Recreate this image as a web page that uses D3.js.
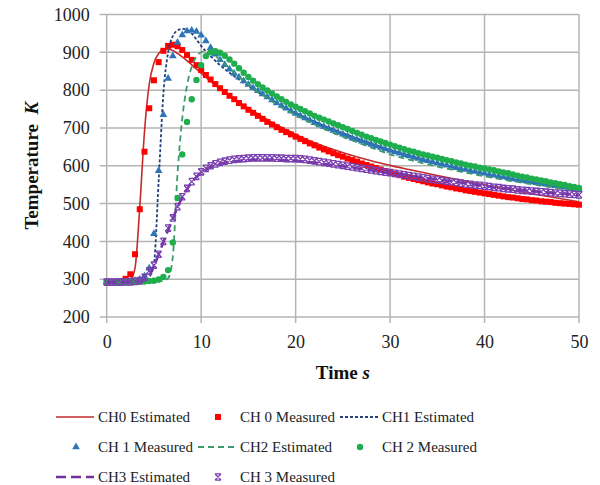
<!DOCTYPE html>
<html>
<head>
<meta charset="utf-8">
<script src="https://cdn.jsdelivr.net/npm/d3@7"></script>
<style>
    body { margin: 0; background: #fff; }
    svg { display: block; }
    svg text { font-family: "Liberation Serif", "Times New Roman", serif; }
</style>
</head>
<body>
<div id="chart-container"></div>
<script>
// Axis ticks
const xTicks = [0, 10, 20, 30, 40, 50];
const yTicks = [200, 300, 400, 500, 600, 700, 800, 900, 1000];

// Measured sample times (s)
const tMeasured = [
    0, 0.5, 1, 1.5, 2, 2.5, 3, 3.5, 4, 4.5,
    5, 5.5, 6, 6.5, 7, 7.5, 8, 8.5, 9, 9.5,
    10, 10.5, 11, 11.5, 12, 12.5, 13, 13.5, 14, 14.5,
    15, 15.5, 16, 16.5, 17, 17.5, 18, 18.5, 19, 19.5,
    20, 20.5, 21, 21.5, 22, 22.5, 23, 23.5, 24, 24.5,
    25, 25.5, 26, 26.5, 27, 27.5, 28, 28.5, 29, 29.5,
    30, 30.5, 31, 31.5, 32, 32.5, 33, 33.5, 34, 34.5,
    35, 35.5, 36, 36.5, 37, 37.5, 38, 38.5, 39, 39.5,
    40, 40.5, 41, 41.5, 42, 42.5, 43, 43.5, 44, 44.5,
    45, 45.5, 46, 46.5, 47, 47.5, 48, 48.5, 49, 49.5,
    50];

const ch0Measured = [
    292, 292, 293, 295, 301, 313, 366, 485, 637, 752,
    826, 874, 904, 917, 920, 916, 906, 893, 880, 866,
    853, 840, 828, 816, 805, 795, 785, 776, 766, 757,
    748, 740, 732, 724, 716, 709, 702, 695, 689, 683,
    677, 671, 665, 659, 654, 648, 643, 638, 633, 628,
    624, 619, 615, 611, 606, 602, 598, 594, 590, 586,
    582, 578, 575, 571, 568, 565, 562, 559, 556, 553,
    551, 548, 545, 543, 540, 538, 535, 533, 531, 529,
    527, 525, 523, 521, 519, 517, 516, 514, 512, 511,
    509, 508, 506, 505, 504, 502, 501, 500, 499, 498,
    497];

const ch1Measured = [
    292, 292, 292, 292, 293, 294, 296, 299, 308, 329,
    420, 587, 735, 831, 890, 926, 946, 956, 958, 955,
    945, 930, 912, 895, 880, 867, 855, 844, 834, 824,
    815, 806, 798, 790, 782, 774, 766, 759, 752, 745,
    738, 732, 726, 720, 714, 708, 703, 698, 693, 688,
    683, 678, 673, 669, 665, 660, 656, 652, 648, 644,
    640, 636, 633, 629, 626, 622, 619, 616, 613, 610,
    607, 604, 601, 598, 595, 592, 590, 587, 585, 582,
    580, 577, 575, 572, 570, 568, 565, 563, 561, 559,
    557, 555, 553, 551, 549, 547, 545, 543, 541, 539,
    537];

const ch2Measured = [
    292, 292, 292, 292, 292, 292, 293, 293, 294, 295,
    296, 299, 306, 324, 397, 515, 630, 716, 776, 827,
    866, 890, 900, 903, 899, 891, 881, 870, 858, 846,
    835, 825, 816, 807, 799, 791, 783, 776, 769, 762,
    756, 750, 744, 738, 732, 727, 722, 717, 712, 707,
    702, 697, 692, 687, 682, 677, 673, 668, 664, 660,
    656, 652, 648, 644, 640, 637, 633, 630, 627, 624,
    621, 618, 615, 612, 609, 606, 603, 600, 598, 595,
    593, 590, 588, 585, 582, 580, 577, 574, 571, 569,
    566, 564, 561, 559, 556, 554, 551, 549, 546, 544,
    541];

const ch3Measured = [
    292, 292, 292, 292, 293, 293, 294, 296, 305, 322,
    337, 366, 400, 435, 462, 492, 518, 540, 558, 572,
    584, 593, 600, 605, 609, 612, 615, 617, 618, 619,
    620, 621, 621, 621, 621, 621, 620, 620, 619, 619,
    619, 618, 617, 615, 613, 611, 609, 607, 605, 603,
    601, 599, 597, 595, 593, 591, 589, 587, 585, 583,
    582, 580, 578, 576, 574, 572, 570, 568, 566, 564,
    562, 561, 559, 557, 556, 554, 552, 551, 549, 548,
    546, 545, 543, 542, 540, 539, 538, 536, 535, 534,
    533, 532, 531, 530, 529, 528, 527, 526, 525, 524,
    523];

// Estimated curves
const ch0EstT = [0, 1, 2, 2.5, 3, 3.5, 4, 4.5, 5, 5.5, 6, 6.5, 7, 7.5, 8, 9, 10, 11, 12, 13,
    14, 15, 16, 17, 18, 19, 20, 22, 24, 26, 28, 30, 32, 35, 40, 45, 50];
const ch0Est = [292, 292, 294, 298, 330, 490, 690, 815, 872, 897, 907, 909, 905, 897, 888, 867, 845, 823, 803, 785,
    768, 752, 737, 722, 708, 695, 683, 661, 643, 627, 613, 601, 590, 574, 549, 526, 505];

const ch1EstT = [0, 3, 4, 4.5, 5, 5.5, 6, 6.5, 7, 7.5, 8, 8.5, 9, 9.5, 10, 11, 12, 13, 14, 15,
    16, 17, 18, 20, 22, 24, 26, 28, 30, 32, 35, 40, 45, 50];
const ch1Est = [292, 293, 296, 305, 340, 560, 790, 900, 943, 958, 962, 960, 950, 934, 917, 890, 866, 846, 828, 811,
    795, 780, 766, 740, 717, 696, 677, 659, 642, 627, 606, 578, 555, 535];

const ch2EstT = [0, 5, 6, 6.5, 7, 7.5, 8, 8.5, 9, 9.5, 10, 10.5, 11, 12, 13, 14, 15, 16, 17, 18,
    20, 22, 24, 26, 28, 30, 32, 35, 40, 45, 50];
const ch2Est = [292, 293, 296, 302, 360, 580, 725, 812, 862, 889, 900, 903, 899, 880, 858, 836, 815, 796, 779, 762,
    734, 709, 687, 667, 648, 630, 616, 598, 572, 551, 533];

const ch3EstT = [0, 3, 4, 4.5, 5, 5.5, 6, 6.5, 7, 7.5, 8, 9, 10, 11, 12, 14, 16, 18, 20, 22,
    24, 26, 28, 30, 32, 35, 40, 45, 50];
const ch3Est = [292, 293, 298, 310, 335, 365, 398, 430, 460, 490, 516, 556, 581, 596, 605, 613, 616, 616, 613, 608,
    602, 595, 588, 581, 574, 564, 547, 533, 523];

// Series definitions in Excel drawing order
const series = [
    { name: "CH0 Estimated", type: "line", t: ch0EstT, v: ch0Est, color: "#c42b2b", width: 1.6, dash: null },
    { name: "CH 0 Measured", type: "square", t: tMeasured, v: ch0Measured, color: "#ff0000" },
    { name: "CH1 Estimated", type: "line", t: ch1EstT, v: ch1Est, color: "#24407a", width: 1.8, dash: "3,2" },
    { name: "CH 1 Measured", type: "triangle", t: tMeasured, v: ch1Measured, color: "#2e75b6" },
    { name: "CH2 Estimated", type: "line", t: ch2EstT, v: ch2Est, color: "#3c9a6c", width: 1.8, dash: "6,4" },
    { name: "CH 2 Measured", type: "circle", t: tMeasured, v: ch2Measured, color: "#1fae4e" },
    { name: "CH3 Estimated", type: "line", t: ch3EstT, v: ch3Est, color: "#7030a0", width: 2.6, dash: "10,5" },
    { name: "CH 3 Measured", type: "star", t: tMeasured, v: ch3Measured, color: "#7a3fb0" },
];

const width = 600;
const height = 485;
const plot = { left: 106.7, right: 579, top: 14.5, bottom: 317 };

const svg = d3.select("#chart-container")
    .append("svg")
    .attr("width", width)
    .attr("height", height);

svg.append("rect").attr("width", width).attr("height", height).attr("fill", "#fff");

const xScale = d3.scaleLinear().domain([0, 50]).range([plot.left, plot.right]);
const yScale = d3.scaleLinear().domain([200, 1000]).range([plot.bottom, plot.top]);

// Gridlines (they poke out a little past the axes, like tick marks)
const gridColor = "#b4b4b4";
svg.append("g").selectAll("line")
    .data(yTicks)
    .join("line")
    .attr("x1", plot.left - 7).attr("x2", plot.right)
    .attr("y1", d => yScale(d)).attr("y2", d => yScale(d))
    .attr("stroke", gridColor).attr("stroke-width", 1.5);

svg.append("g").selectAll("line")
    .data(xTicks)
    .join("line")
    .attr("x1", d => xScale(d)).attr("x2", d => xScale(d))
    .attr("y1", plot.top).attr("y2", plot.bottom + 6)
    .attr("stroke", gridColor).attr("stroke-width", 1.5);

// Axes (labels only)
const xAxis = d3.axisBottom(xScale).tickValues(xTicks).tickFormat(d3.format("d")).tickSize(0).tickPadding(18.5);
const yAxis = d3.axisLeft(yScale).tickValues(yTicks).tickFormat(d3.format("d")).tickSize(0).tickPadding(17);

const styleAxis = (g) => {
    g.attr("font-family", null).attr("font-size", null);
    g.select(".domain").remove();
    g.selectAll("text")
        .style("font-family", "'Liberation Serif', 'Times New Roman', serif")
        .style("font-size", "18px")
        .attr("fill", "#222");
};

svg.append("g")
    .attr("transform", `translate(0, ${plot.bottom})`)
    .call(xAxis)
    .call(styleAxis);

svg.append("g")
    .attr("transform", `translate(${plot.left}, 0)`)
    .call(yAxis)
    .call(styleAxis);

// Axis titles
const xTitle = svg.append("text")
    .attr("x", (plot.left + plot.right) / 2)
    .attr("y", 379)
    .attr("text-anchor", "middle")
    .attr("font-size", 19)
    .attr("font-weight", "bold")
    .attr("fill", "#111");
xTitle.append("tspan").text("Time\u00a0");
xTitle.append("tspan").attr("font-style", "italic").text("s");

const yTitle = svg.append("text")
    .attr("transform", `translate(38, ${(plot.top + plot.bottom) / 2}) rotate(-90)`)
    .attr("text-anchor", "middle")
    .attr("font-size", 19)
    .attr("font-weight", "bold")
    .attr("fill", "#111");
yTitle.append("tspan").text("Temperature\u00a0\u00a0");
yTitle.append("tspan").attr("font-style", "italic").text("K");

// Marker drawing
const triPath = d3.symbol(d3.symbolTriangle, 26)();

const drawMarker = (g, type, color) => {
    if (type === "square") {
        g.append("rect").attr("x", -3).attr("y", -3).attr("width", 6).attr("height", 6).attr("fill", color);
    } else if (type === "triangle") {
        g.append("path").attr("d", triPath).attr("fill", color);
    } else if (type === "circle") {
        g.append("circle").attr("r", 3.2).attr("fill", color);
    } else if (type === "star") {
        g.append("path")
            .attr("d", "M-3,-3L3,3M3,-3L-3,3M-3,-3.2H3M-3,3.2H3")
            .attr("stroke", color).attr("stroke-width", 1.3).attr("fill", "none");
    }
};

const line = d3.line()
    .x(d => xScale(d[0]))
    .y(d => yScale(d[1]))
    .curve(d3.curveMonotoneX);

const plotG = svg.append("g");

series.forEach(s => {
    const pts = s.t.map((t, i) => [t, s.v[i]]);
    if (s.type === "line") {
        plotG.append("path")
            .datum(pts)
            .attr("d", line)
            .attr("fill", "none")
            .attr("stroke", s.color)
            .attr("stroke-width", s.width)
            .attr("stroke-dasharray", s.dash);
    } else {
        plotG.append("g").selectAll("g")
            .data(pts)
            .join("g")
            .attr("transform", d => `translate(${xScale(d[0])}, ${yScale(d[1])})`)
            .each(function () { drawMarker(d3.select(this), s.type, s.color); });
    }
});

// Legend: 3 columns, flowing row by row
const legend = svg.append("g");
const legendX0 = 56;
const colW = 142;
const rowY = [417, 447, 477];

series.forEach((s, i) => {
    const col = i % 3;
    const row = Math.floor(i / 3);
    const x = legendX0 + col * colW;
    const y = rowY[row];
    const item = legend.append("g").attr("transform", `translate(${x}, ${y})`);
    if (s.type === "line") {
        item.append("line")
            .attr("x1", 0).attr("x2", 38)
            .attr("stroke", s.color)
            .attr("stroke-width", s.width)
            .attr("stroke-dasharray", s.dash);
    } else {
        const m = item.append("g").attr("transform", "translate(20, 0)");
        drawMarker(m, s.type, s.color);
    }
    item.append("text")
        .attr("x", 42)
        .attr("y", 5)
        .attr("font-size", 15)
        .attr("fill", "#222")
        .text(s.name);
});
</script>
</body>
</html>
